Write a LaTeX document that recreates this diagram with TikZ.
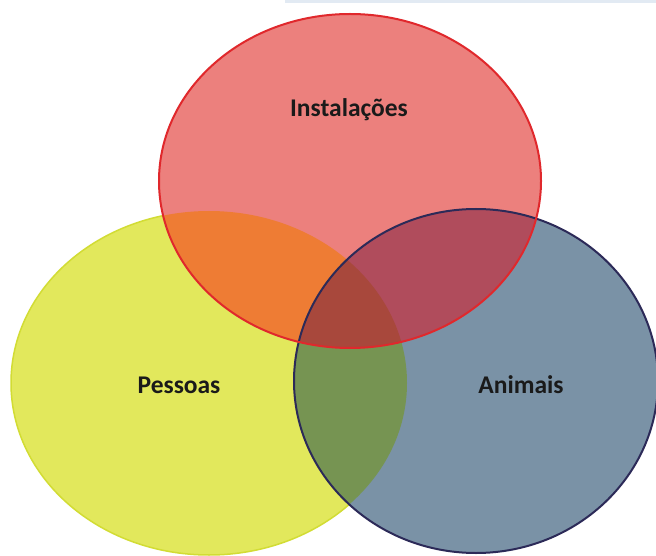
\documentclass[tikz,border=0pt]{standalone}
\usepackage{fontspec}
\setmainfont{Carlito}
\definecolor{yfill}{HTML}{E2E85C}
\definecolor{ydraw}{HTML}{D2DC34}
\definecolor{bfill}{HTML}{7A92A6}
\definecolor{bdraw}{HTML}{2C2A58}
\definecolor{rfill}{HTML}{EC807D}
\definecolor{rdraw}{HTML}{E0282C}
\definecolor{ryfill}{HTML}{EE7C34}
\definecolor{rbfill}{HTML}{B04C5C}
\definecolor{ybfill}{HTML}{769452}
\definecolor{allfill}{HTML}{A8483C}
\definecolor{strip}{HTML}{E2EAF3}
\definecolor{txt}{HTML}{1A1A1A}
\begin{document}
\begin{tikzpicture}[x=1bp,y=-1bp,
  lbl/.style={font=\fontsize{25.5bp}{30bp}\selectfont\bfseries, text=txt, inner sep=0pt},
  redset/.style={insert path={(350,181) ellipse [x radius=191, y radius=167]}},
  yelset/.style={insert path={(209,383) ellipse [x radius=198, y radius=172]}},
  bluset/.style={insert path={(476,381) ellipse [x radius=182, y radius=172]}}]
\useasboundingbox (0,0) rectangle (656,556);
\fill[white] (0,0) rectangle (656,556);
\fill[strip] (285,0) rectangle (656,3);
% yellow
\fill[yfill, draw=ydraw, line width=1.5bp] [yelset];
% blue
\fill[bfill] [bluset];
\begin{scope}
  \clip [yelset];
  \fill[ybfill] [bluset];
\end{scope}
% red
\fill[rfill] [redset];
\begin{scope}
  \clip [redset];
  \fill[ryfill] [yelset];
  \fill[rbfill] [bluset];
  \clip [yelset];
  \fill[allfill] [bluset];
\end{scope}
% outlines
\draw[bdraw, line width=2bp] [bluset];
\draw[rdraw, line width=2bp] [redset];
% labels
\node[lbl] (inst) at (349,110) {Instalações};
\node[lbl] (pess) at (179,385) {Pessoas};
\node[lbl] (anim) at (521,385) {Animais};
\end{tikzpicture}
\end{document}
